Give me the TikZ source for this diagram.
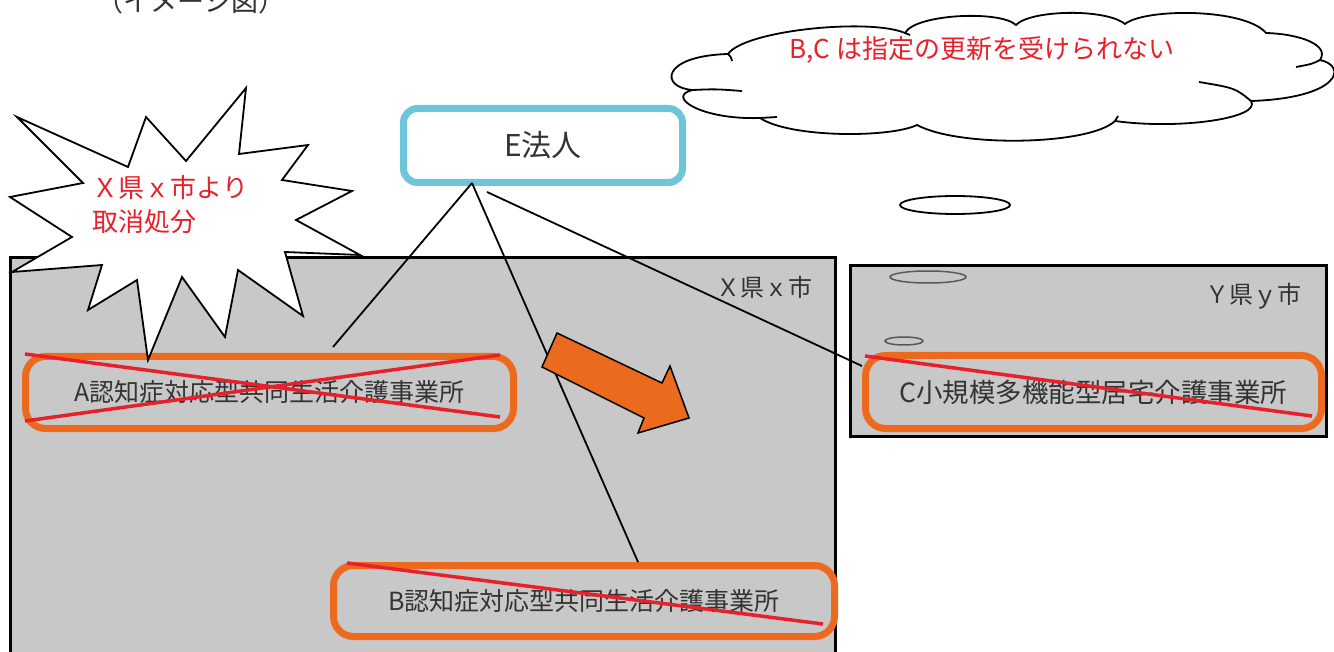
\documentclass[tikz,border=0pt]{standalone}
\usepackage{fontspec}
\setmainfont{Noto Sans CJK JP}
\definecolor{boxorange}{HTML}{EB6A1E}
\definecolor{crossred}{HTML}{E8202A}
\definecolor{corpcyan}{HTML}{6CC5D8}
\definecolor{areagray}{HTML}{C8C8C8}
\definecolor{textgray}{HTML}{333333}

\begin{document}
\begin{tikzpicture}[x=1pt, y=-1pt,
  area/.style = {draw=black, line width=3pt, fill=areagray},
  office/.style = {draw=boxorange, line width=7pt, rounded corners=20pt, inner sep=0pt, text=textgray, font=\fontsize{25}{30}\selectfont},
  corp/.style = {draw=corpcyan, line width=7pt, rounded corners=14pt, fill=white, text=textgray, font=\fontsize{30}{36}\selectfont},
  cross/.style = {draw=crossred, line width=3.5pt},
  link/.style = {draw=black, line width=1.8pt},
  redtext/.style = {text=crossred, font=\fontsize{26}{34}\selectfont},
  arealabel/.style = {anchor=east, text=textgray, font=\fontsize{24}{30}\selectfont},
  puff/.style = {line width=1.8pt}]
\useasboundingbox (0,0) rectangle (1334,652);

% areas
\draw[area] (10.5,257.5) rectangle (835.5,700);
\draw[area] (850.5,265.5) rectangle (1326.5,436.5);
\node[arealabel] (xlab) at (816,287) {Ｘ県ｘ市};
\node[arealabel] (ylab) at (1305,296) {Ｙ県ｙ市};

% offices
\node[office, minimum width=488pt, minimum height=72pt] (A) at (269.5,392.5) {A認知症対応型共同生活介護事業所};
\node[office, minimum width=501pt, minimum height=71pt] (B) at (584,601) {B認知症対応型共同生活介護事業所};
\node[office, minimum width=456pt, minimum height=73pt, font=\fontsize{26.5}{32}\selectfont] (C) at (1093.5,392) {C小規模多機能型居宅介護事業所};

% corporation
\node[corp, minimum width=279pt, minimum height=74pt] (E) at (543,145.5) {E法人};
\coordinate (eab) at (472,183);
\coordinate (ec) at (487,192);
\coordinate (atop) at (333,347);

\draw[link] (eab) -- (atop);
\draw[link] (eab) -- (B.north -| 638,0);
\draw[link] (ec) -- (C.west |- 0,366);

% revocation burst
\draw[line width=1.8pt, fill=white, line join=miter]
  (17,117) -- (128,167) -- (146,117) -- (186,161) -- (246,88) -- (239,154)
  -- (308,145) -- (282,180) -- (352,191) -- (296,220) -- (360,255) -- (285,252)
  -- (303,316) -- (238,270) -- (225,337) -- (182,277) -- (148,360) -- (137,280)
  -- (88,310) -- (102,265) -- (12,272) -- (72,237) -- (10,197) -- (83,183) -- cycle;
\node[redtext, align=left, anchor=west] (revoke) at (89,205) {Ｘ県ｘ市より\\取消処分};

% strike-outs
\draw[cross] (25,354) -- (500,417);
\draw[cross] (25,421) -- (500,355);
\draw[cross] (347,563) -- (823,624);
\draw[cross] (865,356) -- (1312,416);

% move arrow
\draw[line width=1.5pt, fill=boxorange, line join=miter]
  (557,333) -- (662,383) -- (670,366) -- (689,418) -- (638,433) -- (644,418) -- (542,367) -- cycle;

% thought cloud
\draw[puff, fill=white]
  (728,54) .. controls (745,30) and (870,18) .. (905,33)
  .. controls (915,14) and (1000,10) .. (1016,25)
  .. controls (1030,10) and (1105,8) .. (1125,24)
  .. controls (1145,8) and (1245,8) .. (1266,33)
  .. controls (1300,34) and (1330,45) .. (1320,60)
  .. controls (1348,66) and (1340,98) .. (1251,101)
  .. controls (1262,118) and (1180,130) .. (1115,121)
  .. controls (1090,145) and (960,148) .. (917,125)
  .. controls (890,138) and (790,138) .. (760,118)
  .. controls (700,120) and (665,96) .. (693,90)
  .. controls (660,88) and (660,56) .. cycle;
\draw[puff] (728,54) .. controls (731,57) .. (732,61);
\draw[puff] (693,90) .. controls (715,89) .. (742,91);
\draw[puff] (760,118) .. controls (768,117) .. (777,117);
\draw[puff] (1115,121) .. controls (1116,119) .. (1118,116);
\draw[puff] (1320,60) .. controls (1312,64) .. (1296,67);
\draw[puff] (1199,82) .. controls (1235,88) .. (1251,101);
\draw[puff] (905,33) .. controls (907,34) .. (910,35);
\node[redtext] (note) at (982,50) {B,C は指定の更新を受けられない};
\draw[line width=1.8pt] (955,205) ellipse [x radius=55pt, y radius=9pt];
\draw[line width=1.5pt, draw=black!65] (928,277) ellipse [x radius=38pt, y radius=6pt];
\draw[line width=1.5pt, draw=black!65] (904,341) ellipse [x radius=19pt, y radius=4pt];

\node[anchor=base, text=textgray, font=\fontsize{27}{32}\selectfont] (title) at (191,12) {（イメージ図）};
\end{tikzpicture}
\end{document}
